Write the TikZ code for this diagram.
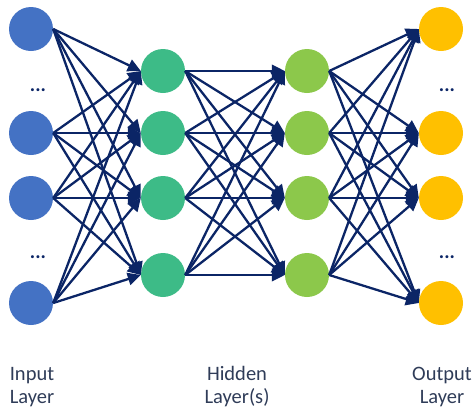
\documentclass[tikz,border=0pt]{standalone}
\usepackage{fontspec}
\setmainfont{Carlito}
\usetikzlibrary{arrows.meta}
\definecolor{inblue}{HTML}{4472C4}
\definecolor{hidgreen}{HTML}{3DBB87}
\definecolor{hidlime}{HTML}{8CC84B}
\definecolor{outgold}{HTML}{FFC000}
\definecolor{edgenavy}{HTML}{0B2566}
\definecolor{labeltext}{HTML}{2F3C58}
\tikzset{
  neuron/.style={circle, minimum size=44pt, inner sep=0pt, draw=none},
  inneuron/.style={neuron, fill=inblue},
  hidneuron/.style={neuron, fill=hidgreen},
  hidtwoneuron/.style={neuron, fill=hidlime},
  outneuron/.style={neuron, fill=outgold},
  conn/.style={draw=edgenavy, line width=2.3pt, -{Triangle[length=13pt,width=12.5pt]}},
  dotsnode/.style={text=edgenavy, font=\bfseries\fontsize{20pt}{22pt}\selectfont, inner sep=0pt},
  layerlabel/.style={text=labeltext, align=center, font=\fontsize{20.5pt}{23pt}\selectfont, inner sep=0pt}
}
\begin{document}
\begin{tikzpicture}[x=1pt,y=-1pt]
\useasboundingbox (0,0) rectangle (473,408);
% input layer
\node[inneuron] (i1) at (31,29) {};
\node[inneuron] (i2) at (31,133) {};
\node[inneuron] (i3) at (31,198) {};
\node[inneuron] (i4) at (31,303) {};
% hidden layer 1
\node[hidneuron] (h1) at (163,71) {};
\node[hidneuron] (h2) at (163,133) {};
\node[hidneuron] (h3) at (163,198) {};
\node[hidneuron] (h4) at (163,275) {};
% hidden layer 2
\node[hidtwoneuron] (g1) at (307,71) {};
\node[hidtwoneuron] (g2) at (307,133) {};
\node[hidtwoneuron] (g3) at (307,198) {};
\node[hidtwoneuron] (g4) at (307,275) {};
% output layer
\node[outneuron] (o1) at (441,29) {};
\node[outneuron] (o2) at (441,133) {};
\node[outneuron] (o3) at (441,198) {};
\node[outneuron] (o4) at (441,303) {};
% dots
\node[dotsnode] (d1) at (38,90) {...};
\node[dotsnode] (d2) at (38,257) {...};
\node[dotsnode] (d3) at (447,90) {...};
\node[dotsnode] (d4) at (447,257) {...};
% connections
\foreach \s in {1,2,3,4}{
  \foreach \t in {1,2,3,4}{
    \draw[conn] (i\s.east) -- (h\t.west);
    \draw[conn] (h\s.east) -- (g\t.west);
    \draw[conn] (g\s.east) -- (o\t.west);
  }
}
% labels
\node[layerlabel] (lin) at (32,387) {Input\\Layer};
\node[layerlabel] (lhid) at (237,387) {Hidden\\Layer(s)};
\node[layerlabel] (lout) at (442,387) {Output\\Layer};
\end{tikzpicture}
\end{document}
